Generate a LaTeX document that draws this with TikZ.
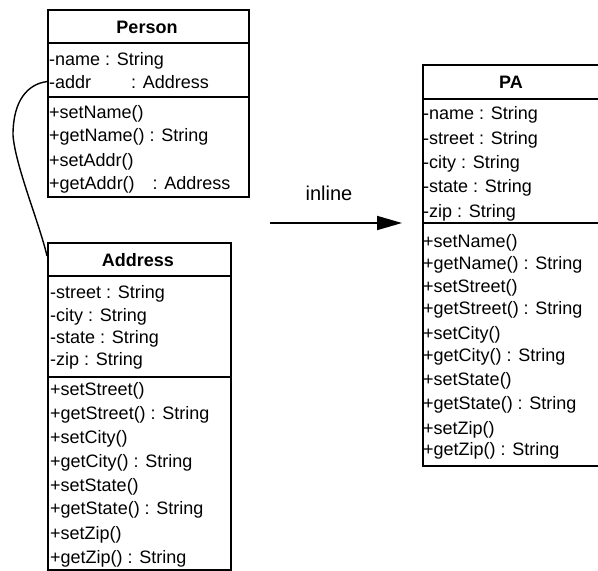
\documentclass[tikz,border=0pt]{standalone}
\usepackage{fontspec}
\setmainfont{Liberation Sans}
\usetikzlibrary{arrows.meta}
\begin{document}
\begin{tikzpicture}[x=1pt,y=-1pt,
  box/.style={draw, line width=1.8pt, rectangle, inner sep=0pt, anchor=north west},
  rule/.style={line width=1.8pt},
  member/.style={anchor=base west, inner sep=0pt, font=\fontsize{18}{22}\selectfont},
  classname/.style={anchor=base, inner sep=0pt, font=\fontsize{18}{22}\selectfont\bfseries},
  link/.style={line width=1.4pt},
  flow/.style={line width=1.8pt, -{Triangle[length=25pt,width=14pt]}},
]
\clip (0,0) rectangle (598,571);

% ---- Person ----
\node[box, minimum width=201pt, minimum height=187pt] (person) at (47,9) {};
\draw[rule] (47,43) -- (248,43);
\draw[rule] (47,97) -- (248,97);
\node[classname] (person-name) at (147,33) {Person};
\foreach \yb/\t [count=\i] in {65/-name : String,
    88/-addr\hspace{40pt}: Address,
    118/+setName(),
    141/+getName() : String,
    166/+setAddr(),
    189/+getAddr()\hspace{18pt}: Address}
  \node[member] (person-m\i) at (49,\yb) {\t};

% ---- Address ----
\node[box, minimum width=183pt, minimum height=327pt] (address) at (47,242) {};
\draw[rule] (47,276) -- (230,276);
\draw[rule] (47,377) -- (230,377);
\node[classname] (address-name) at (138,266) {Address};
\foreach \yb/\t [count=\i] in {298/-street : String,
    321/-city : String,
    343/-state : String,
    365/-zip : String,
    395/+setStreet(),
    419/+getStreet() : String,
    443/+setCity(),
    467/+getCity() : String,
    491/+setState(),
    514/+getState() : String,
    539/+setZip(),
    563/+getZip() : String}
  \node[member] (address-m\i) at (50,\yb) {\t};

% ---- PA ----
\node[box, minimum width=178pt, minimum height=401pt] (pa) at (422,64) {};
\draw[rule] (422,99) -- (600,99);
\draw[rule] (422,223) -- (600,223);
\node[classname] (pa-name) at (511,88) {PA};
\foreach \yb/\t [count=\i] in {119/-name : String,
    144/-street : String,
    168/-city : String,
    192/-state : String,
    217/-zip : String,
    247/+setName(),
    269/+getName() : String,
    292/+setStreet(),
    314/+getStreet() : String,
    339/+setCity(),
    361/+getCity() : String,
    385/+setState(),
    409/+getState() : String,
    434/+setZip(),
    455/+getZip() : String}
  \node[member] (pa-m\i) at (423,\yb) {\t};

% ---- association between Person.addr and Address ----
\coordinate (link-a) at (person.west |- person-m2.west);
\coordinate (link-b) at (47,256);
\coordinate (link-mid) at (13,135);
\draw[link] (link-a) .. controls (28,84) and (13,100) .. (link-mid)
  .. controls (15,165) and (40,225) .. (link-b);

% ---- inline transformation arrow ----
\coordinate (flow-start) at (270,223);
\coordinate (flow-end) at (402,223);
\draw[flow] (flow-start) -- (flow-end);
\node[anchor=base, inner sep=0pt, font=\fontsize{20}{24}\selectfont] (flow-label) at (329,200) {inline};
\end{tikzpicture}
\end{document}
